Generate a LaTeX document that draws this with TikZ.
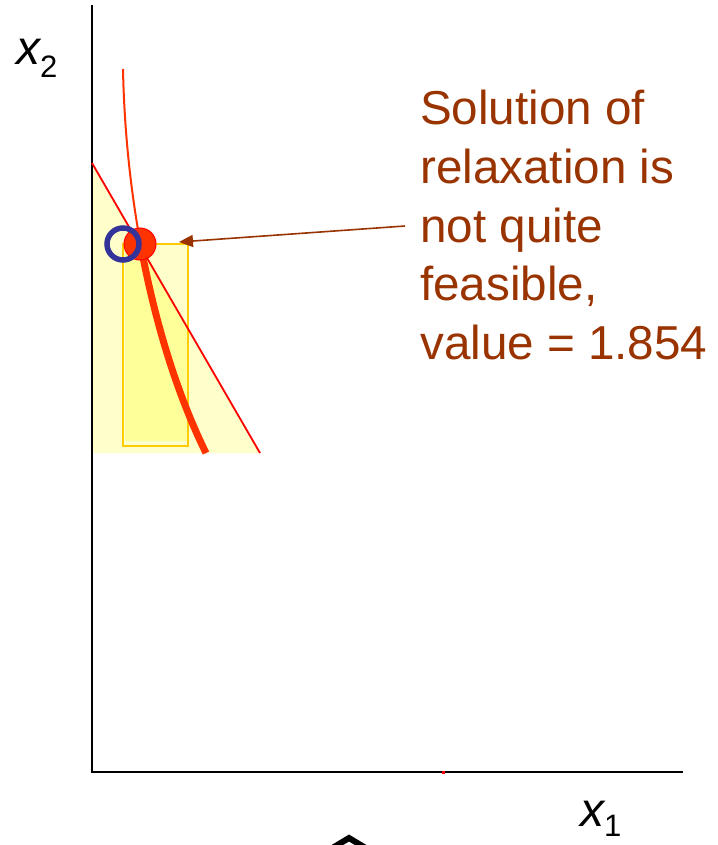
\documentclass[tikz,border=0pt]{standalone}
\usepackage{fontspec}
\setmainfont{Liberation Sans}
\usetikzlibrary{arrows.meta}
\definecolor{lightyel}{HTML}{FFFFCC}
\definecolor{brightyel}{HTML}{FFFF99}
\definecolor{rectorange}{HTML}{FFCC00}
\definecolor{curvered}{HTML}{FF3300}
\definecolor{ringblue}{HTML}{333399}
\definecolor{brown}{HTML}{993300}
\tikzset{
  axisline/.style={line width=2.2pt, black},
  cutline/.style={line width=1.8pt, red},
  label/.style={anchor=base west, inner sep=0pt, text=brown, font=\fontsize{47.6}{58.5}\selectfont},
  axlabel/.style={anchor=base west, inner sep=0pt},
  pointer/.style={draw=brown, line width=1.6pt, -{Triangle[length=14pt,width=12pt]}},
}
\begin{document}
\begin{tikzpicture}[x=1pt,y=-1pt]
\useasboundingbox (0,0) rectangle (717,845);
% triangle region
\fill[lightyel] (92,163) -- (260,453) -- (92,453) -- cycle;
% rectangle
\draw[rectorange, fill=lightyel, line width=1.5pt] (123,244) rectangle (188,446);
\begin{scope}
  \clip (92,163) -- (260,453) -- (92,453) -- cycle;
  \fill[brightyel] (124.5,250) rectangle (186.5,441);
\end{scope}
% axes
\coordinate (O) at (92,772);
\coordinate (Ytop) at (92,5);
\coordinate (Xend) at (683,772);
\draw[axisline] (Ytop) -- (O) -- (Xend);
\fill[red] (441.5,771) rectangle (444.5,773.5);
% red cut line
\coordinate (L1) at (92,163);
\coordinate (L2) at (260,453);
\draw[cutline] (L1) -- (L2);
% curve
\coordinate (C0) at (123,69);
\coordinate (C3) at (206,453);
\draw[curvered, line width=2pt] (C0) .. controls (126,220) and (160,360) .. (C3);
\begin{scope}
  \clip (0,246) rectangle (717,454);
  \draw[curvered, line width=7pt] (C0) .. controls (126,220) and (160,360) .. (C3);
\end{scope}
% points
\node[circle, fill=curvered, draw=red, line width=1pt, minimum size=32pt, inner sep=0pt] (relax) at (140,244) {};
\node[circle, draw=ringblue, line width=5.5pt, minimum size=32pt, inner sep=0pt] (feas) at (123,244) {};
% text
\node[label] (t1) at (420,125) {Solution of};
\node[label] (t2) at (420,183.5) {relaxation is};
\node[label] (t3) at (420,242) {not quite};
\node[label] (t4) at (420,300.5) {feasible,};
\node[label] (t5) at (420,359) {value = 1.854};
\coordinate (as) at (405,226);
\coordinate (ae) at (179,242);
\draw[pointer] (as) -- (ae);
% axis labels
\node[axlabel] (x2) at (16,65) {\fontsize{48}{48}\selectfont\itshape x\raisebox{-13pt}{\fontsize{31}{31}\selectfont\upshape 2}};
\node[axlabel] (x1) at (580,826) {\fontsize{48}{48}\selectfont\itshape x\raisebox{-10pt}{\fontsize{31}{31}\selectfont\upshape 1}};
% partial hat at bottom
\draw[line width=6pt, miter limit=10] (324,853) -- (349,838) -- (374,853);
\end{tikzpicture}
\end{document}
